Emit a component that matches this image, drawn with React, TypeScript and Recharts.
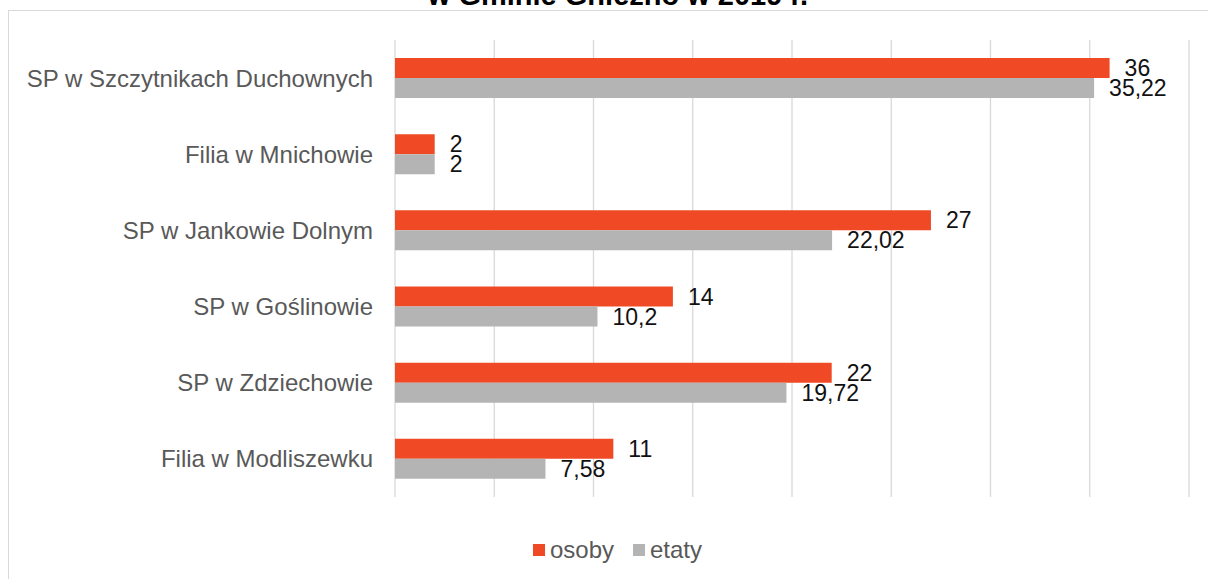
import { Bar, BarChart, CartesianGrid, LabelList, Legend, XAxis, YAxis } from 'recharts'

// Kadra szkół w Gminie Gniezno — osoby vs etaty (poziomy wykres słupkowy)

const schools = [
  'SP w Szczytnikach Duchownych',
  'Filia w Mnichowie',
  'SP w Jankowie Dolnym',
  'SP w Goślinowie',
  'SP w Zdziechowie',
  'Filia w Modliszewku',
]
const osoby = [36, 2, 27, 14, 22, 11]
const etaty = [35.22, 2, 22.02, 10.2, 19.72, 7.58]
const xTicks = [0, 5, 10, 15, 20, 25, 30, 35, 40]

const FONT = '"Liberation Sans", Arial, sans-serif'
const ORANGE = '#ef4a25'
const GREY = '#b4b4b4'

const data = schools.map((name, i) => ({ name, osoby: osoby[i], etaty: etaty[i] }))

const formatPl = (v: unknown) => String(v).replace('.', ',')

function ChartLegend() {
  const items = [
    { label: 'osoby', color: ORANGE },
    { label: 'etaty', color: GREY },
  ]
  return (
    <div
      style={{
        display: 'flex',
        justifyContent: 'center',
        alignItems: 'center',
        paddingLeft: 46,
        height: 28,
        fontFamily: FONT,
        fontSize: 24,
        color: '#595959',
      }}
    >
      {items.map((it, i) => (
        <div key={it.label} style={{ display: 'flex', alignItems: 'center', marginLeft: i ? 19 : 0 }}>
          <span style={{ width: 12, height: 12, background: it.color, marginRight: 5 }} />
          <span>{it.label}</span>
        </div>
      ))}
    </div>
  )
}

export default function App() {
  return (
    <div style={{ position: 'fixed', left: 0, top: 0, width: 1208, height: 579, overflow: 'hidden', background: '#fff' }}>
      {/* frame of the chart area — right/bottom edges fall outside the shot */}
      <div
        style={{
          position: 'absolute',
          left: 8,
          top: 10,
          width: 1220,
          height: 600,
          border: '1px solid #d9d9d9',
        }}
      />
      {/* title, cut off at the top like in the source */}
      <svg style={{ position: 'absolute', left: 0, top: 0 }} width={1208} height={20}>
        <text x={618} y={5} textAnchor="middle" fontFamily={FONT} fontWeight="bold" fontSize={29} fill="#000">
          w Gminie Gniezno w 2019 r.
        </text>
      </svg>
      <div style={{ position: 'absolute', left: 0, top: 0 }}>
        <BarChart
          width={1208}
          height={579}
          data={data}
          layout="vertical"
          margin={{ top: 40, right: 19, bottom: 54, left: 0 }}
          barGap={0}
          barSize={20}
        >
          <CartesianGrid horizontal={false} stroke="#d9d9d9" strokeWidth={1.3} />
          <XAxis type="number" domain={[0, 40]} ticks={xTicks} hide />
          <YAxis
            type="category"
            dataKey="name"
            width={395}
            interval={0}
            axisLine={false}
            tickLine={false}
            tickSize={0}
            tickMargin={22}
            tick={{ fill: '#595959', fontSize: 24, fontFamily: FONT }}
          />
          <Legend verticalAlign="bottom" wrapperStyle={{ bottom: 15 }} content={() => <ChartLegend />} />
          <Bar dataKey="osoby" fill={ORANGE} isAnimationActive={false}>
            <LabelList dataKey="osoby" position="right" offset={15} formatter={formatPl} fill="#111" fontSize={23} fontFamily={FONT} />
          </Bar>
          <Bar dataKey="etaty" fill={GREY} isAnimationActive={false}>
            <LabelList dataKey="etaty" position="right" offset={15} formatter={formatPl} fill="#111" fontSize={23} fontFamily={FONT} />
          </Bar>
        </BarChart>
      </div>
    </div>
  )
}
